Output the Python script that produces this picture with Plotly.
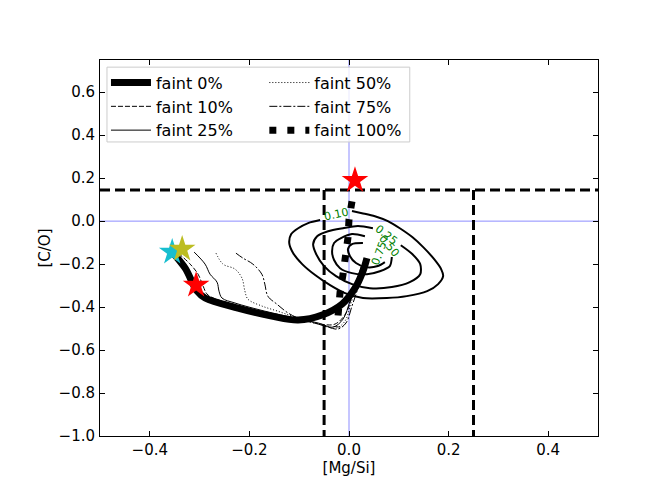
import plotly.graph_objects as go

# ── Evolution tracks in [Mg/Si] vs [C/O] ──────────────────────────────────────
faint0_x = [-0.355, -0.329, -0.305, -0.289, -0.223, -0.155, -0.102, -0.054, -0.014, 0.012, 0.028, 0.036]
faint0_y = [-0.144, -0.219, -0.326, -0.358, -0.405, -0.442, -0.460, -0.437, -0.386, -0.312, -0.233, -0.172]

faint10_x = [-0.343, -0.319, -0.303, -0.293, -0.283, -0.219, -0.155, -0.102, -0.058, -0.028, -0.006, 0.006, 0.018, 0.026]
faint10_y = [-0.149, -0.200, -0.247, -0.302, -0.344, -0.395, -0.433, -0.456, -0.479, -0.479, -0.428, -0.349, -0.270, -0.205]

faint25_x = [-0.311, -0.289, -0.279, -0.265, -0.261, -0.255, -0.229, -0.169, -0.108, -0.062, -0.032, -0.012, 0.002, 0.014, 0.024]
faint25_y = [-0.144, -0.200, -0.247, -0.284, -0.326, -0.358, -0.381, -0.419, -0.451, -0.474, -0.493, -0.456, -0.372, -0.288, -0.214]

faint50_x = [-0.267, -0.253, -0.229, -0.215, -0.209, -0.203, -0.175, -0.143, -0.108, -0.054, -0.026, -0.008, 0.004, 0.016, 0.026]
faint50_y = [-0.149, -0.200, -0.223, -0.265, -0.326, -0.363, -0.395, -0.419, -0.447, -0.484, -0.498, -0.465, -0.381, -0.298, -0.223]

faint75_x = [-0.227, -0.213, -0.193, -0.175, -0.169, -0.163, -0.145, -0.122, -0.102, -0.074, -0.042, -0.022, -0.006, 0.006, 0.018, 0.028]
faint75_y = [-0.149, -0.172, -0.200, -0.247, -0.293, -0.349, -0.386, -0.428, -0.451, -0.470, -0.493, -0.502, -0.474, -0.395, -0.312, -0.233]

faint100_x = [0.006, 0.000, -0.002, -0.006, -0.012, -0.018, -0.020, -0.024]
faint100_y = [0.092, 0.008, -0.076, -0.164, -0.248, -0.332, -0.415, -0.494]

# ── Density contours (levels 0.10 / 0.25 / 0.50 / 0.75) ──────────────────────
c10_x = [0.006, 0.026, 0.052, 0.078, 0.102, 0.127, 0.149, 0.171, 0.185, 0.189, 0.179, 0.157, 0.116, 0.076,
         0.028, -0.008, -0.038, -0.068, -0.094, -0.112, -0.120, -0.116, -0.102, -0.082, -0.058]
c10_y = [0.047, 0.037, 0.023, 0.000, -0.033, -0.074, -0.121, -0.177, -0.223, -0.256, -0.293, -0.326, -0.349, -0.358,
         -0.358, -0.335, -0.298, -0.251, -0.200, -0.149, -0.102, -0.060, -0.033, -0.009, 0.005]
c25_x = [0.104, 0.127, 0.143, 0.143, 0.122, 0.086, 0.042, 0.006, -0.026, -0.050, -0.066, -0.072, -0.064, -0.042, -0.012, 0.018, 0.048]
c25_y = [-0.112, -0.153, -0.200, -0.247, -0.284, -0.307, -0.312, -0.293, -0.256, -0.209, -0.153, -0.107, -0.070, -0.047, -0.033, -0.023, -0.033]
c50_x = [0.086, 0.082, 0.062, 0.036, 0.006, -0.018, -0.030, -0.034, -0.030, -0.016, 0.006, 0.032]
c50_y = [-0.167, -0.209, -0.233, -0.247, -0.242, -0.219, -0.181, -0.140, -0.102, -0.079, -0.060, -0.070]
c75_x = [0.072, 0.058, 0.034, 0.014, 0.002, -0.002, 0.006, 0.028]
c75_y = [-0.191, -0.209, -0.214, -0.195, -0.163, -0.130, -0.107, -0.102]

contour_labels = ["0.10", "0.25", "0.50", "0.75"]
label_x = [-0.026, 0.076, 0.082, 0.062]
label_y = [0.033, -0.066, -0.116, -0.148]
label_angle = [-12, 38, 50, -70]

# ── Stars ─────────────────────────────────────────────────────────────────────
star_x = [-0.355, -0.335, -0.307, 0.012]
star_y = [-0.144, -0.130, -0.298, 0.190]
star_colors = ["#17becf", "#bcbd22", "red", "red"]

# ── Reference lines ───────────────────────────────────────────────────────────
HLINE_Y = 0.145
VLINE_X = [-0.05, 0.25]
Y_MIN, Y_MAX = -1.0, 0.75
X_MIN, X_MAX = -0.5, 0.5

FONT = "DejaVu Sans"
fig = go.Figure()

# blue zero lines
fig.add_hline(y=0, line=dict(color="rgba(0,0,255,0.45)", width=1), layer="below")
fig.add_vline(x=0, line=dict(color="rgba(0,0,255,0.45)", width=1), layer="below")

# dashed boundaries
fig.add_trace(go.Scatter(x=[X_MIN, X_MAX], y=[HLINE_Y, HLINE_Y], mode="lines",
                         line=dict(color="black", width=3, dash="10px,5px"), showlegend=False))
for vx in VLINE_X:
    fig.add_trace(go.Scatter(x=[vx, vx], y=[HLINE_Y, Y_MIN], mode="lines",
                             line=dict(color="black", width=3, dash="10px,5px"), showlegend=False))

# contours
for cx, cy in [(c10_x, c10_y), (c25_x, c25_y), (c50_x, c50_y), (c75_x, c75_y)]:
    fig.add_trace(go.Scatter(x=cx, y=cy, mode="lines", showlegend=False,
                             line=dict(color="black", width=2, shape="spline", smoothing=0.8)))

for txt, lx, ly, ang in zip(contour_labels, label_x, label_y, label_angle):
    fig.add_annotation(x=lx, y=ly, text=txt, showarrow=False, textangle=ang,
                       font=dict(family=FONT, size=11, color="green"))

# tracks  (legend = left column, legend2 = right column)
tracks = [
    ("faint 0%",   faint0_x,   faint0_y,   dict(width=7, dash="solid", shape="spline"),           "legend"),
    ("faint 10%",  faint10_x,  faint10_y,  dict(width=1, dash="5px,2px", shape="spline"),         "legend"),
    ("faint 25%",  faint25_x,  faint25_y,  dict(width=1, dash="solid", shape="spline"),           "legend"),
    ("faint 50%",  faint50_x,  faint50_y,  dict(width=1, dash="1px,2px", shape="spline"),         "legend2"),
    ("faint 75%",  faint75_x,  faint75_y,  dict(width=1, dash="8px,2px,2px,2px", shape="spline"), "legend2"),
    ("faint 100%", faint100_x, faint100_y, dict(width=7, dash="7px,11px", shape="linear"),        "legend2"),
]
for name, tx, ty, ln, lg in tracks:
    fig.add_trace(go.Scatter(x=tx, y=ty, mode="lines", name=name, legend=lg, legendgroup=name,
                             line=dict(color="black", **ln)))

# stars
for sx, sy, sc in zip(star_x, star_y, star_colors):
    fig.add_trace(go.Scatter(x=[sx], y=[sy], mode="markers", showlegend=False,
                             marker=dict(symbol="star", size=20, color=sc, line=dict(width=0))))

# legend frame
fig.add_shape(type="rect", xref="paper", yref="paper", x0=0.014, x1=0.622, y0=0.782, y1=0.981,
              line=dict(color="#cccccc", width=1), fillcolor="rgba(255,255,255,0.8)", layer="above")

axis = dict(showgrid=False, zeroline=False, showline=True, linecolor="black", linewidth=1,
            mirror="ticks", ticks="inside", ticklen=5, tickcolor="black",
            tickfont=dict(family=FONT, size=15, color="black"), tickformat=".1f", dtick=0.2, tick0=0)
leg = dict(yanchor="top", xanchor="left", y=0.985, bgcolor="rgba(0,0,0,0)", borderwidth=0,
           font=dict(family=FONT, size=16, color="black"), tracegroupgap=0, itemwidth=40)

# page body adds an 8px offset, so margins are shifted to compensate
fig.update_layout(
    width=664, height=498,
    margin=dict(l=92, r=74, t=52, b=70),
    plot_bgcolor="white", paper_bgcolor="white",
    font=dict(family=FONT, size=15, color="black"),
    xaxis=dict(axis, range=[X_MIN, X_MAX],
               title=dict(text="[Mg/Si]", font=dict(family=FONT, size=15), standoff=4)),
    yaxis=dict(axis, range=[Y_MIN, Y_MAX], ticklabelstandoff=1,
               title=dict(text="[C/O]", font=dict(family=FONT, size=15), standoff=4)),
    legend=dict(leg, x=0.012),
    legend2=dict(leg, x=0.33),
    showlegend=True,
)

fig.write_html("out.html")
